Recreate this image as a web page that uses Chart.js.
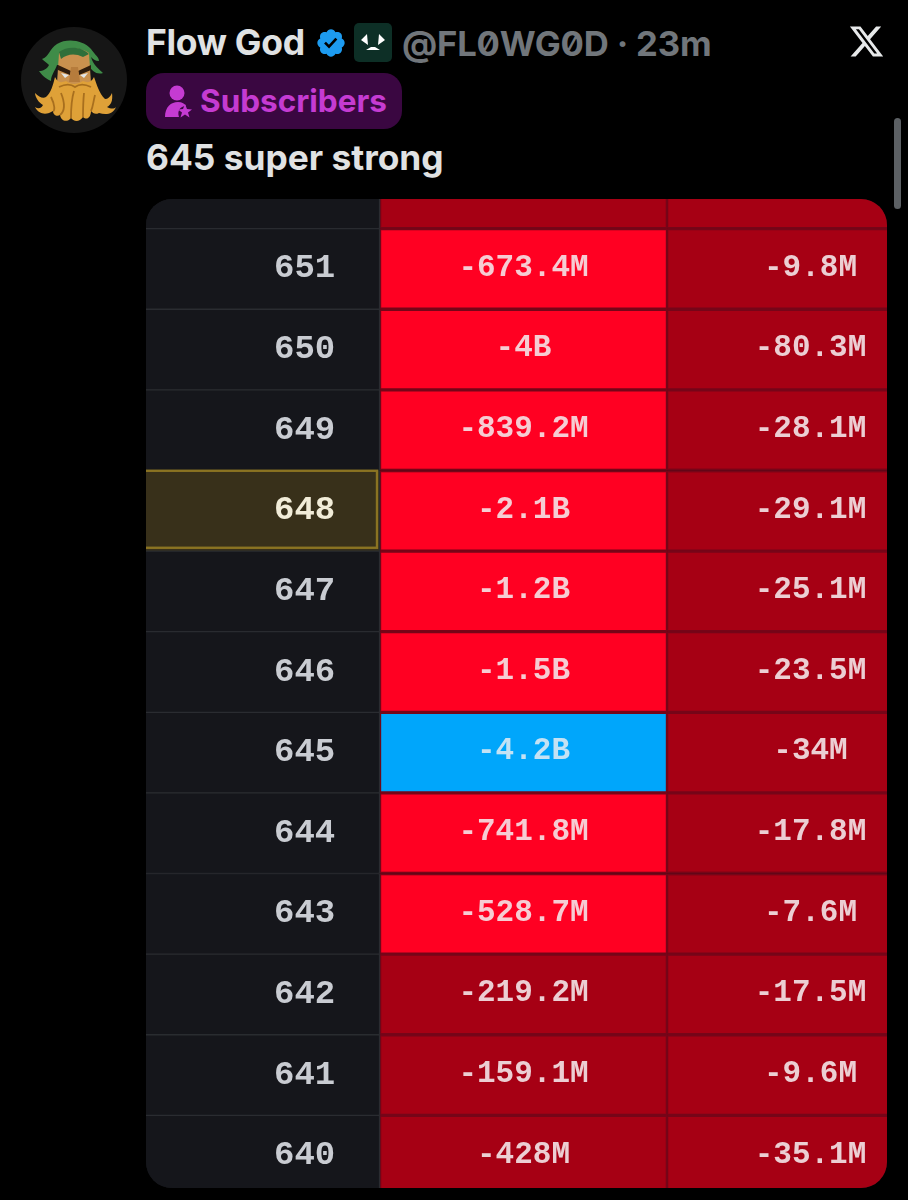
<!DOCTYPE html>
<html><head><meta charset="utf-8">
<style>
html,body{margin:0;padding:0;background:#000;width:908px;height:1200px;overflow:hidden}
body{position:relative;font-family:Inter,Roboto,sans-serif}
.t{position:absolute;white-space:nowrap;line-height:1;font-weight:700}
svg{position:absolute;overflow:visible}
#tbl{position:absolute;left:146px;top:199px;width:741px;height:989px;border-radius:26px;overflow:hidden;background:#15161b}
#c{position:absolute;left:0;top:-51.3px;filter:blur(.7px)}
#sb{position:absolute;left:894px;top:118px;width:7px;height:91px;border-radius:4px;background:#5c6064}
</style></head><body>
<svg style="left:21px;top:27px" width="106" height="106" viewBox="0 0 106 106">
<circle cx="53" cy="53" r="53" fill="#161616"/>
<path d="M21 32C28 30 28 22 36 17C46 11 62 13 70 22C74 28 78 30 78 34C74 34 72 32 70 30C72 38 78 42 82 46C76 48 70 44 68 38L36 38C34 44 30 48 30 54C26 52 22 50 18 44C22 44 26 42 28 38C26 36 23 34 21 32Z" fill="#3f8c48"/>
<path d="M38 26C46 20 60 20 68 26L70 56L62 66L44 66L36 56Z" fill="#c9914e"/>
<path d="M38 25C46 19 60 19 68 27L62 30C54 26 46 27 40 32Z" fill="#2f6f3a"/>
<path d="M37 38L50 44L49 48L37 43ZM70 38L57 44L58 48L70 43Z" fill="#2e1c0c"/>
<path d="M40 46L48 48L44 51ZM67 46L59 48L63 51Z" fill="#e3e6e6"/>
<path d="M50 40L57 40L59 55L48 55Z" fill="#b67c3c"/>
<path d="M34 50C37 56 40 56 45 54C50 58 56 58 62 54C66 56 70 56 73 50C76 58 78 66 84 72C87 72 89 70 91 66C92 74 90 78 86 80C90 82 93 82 95 80C92 88 84 88 78 86C74 88 72 86 70 84C70 90 66 94 62 90C58 96 52 94 50 91C46 96 40 94 39 88C36 90 32 88 32 84C26 88 18 88 14 80C17 82 20 82 22 78C18 76 14 70 14 66C18 70 22 72 25 70C30 66 32 58 34 50Z" fill="#dfa138"/>
<path d="M38 60C44 57 50 57 54 60C58 57 64 57 70 60M30 70C34 78 34 84 32 84M40 66C44 76 44 84 39 88M53 64C50 74 50 84 50 91M63 66C62 76 62 84 62 90M74 68C72 76 72 80 70 84" stroke="#a86f1e" stroke-width="1.8" fill="none"/>
</svg>
<div class="t" style="left:146px;top:25px;font-size:35.5px;color:#e0e2e3;letter-spacing:-.3px">Flow God</div>
<svg style="left:315px;top:27px" width="32" height="32" viewBox="0 0 24 24"><path fill="#1d9bf0" fill-rule="evenodd" d="M22.25 12c0-1.43-.88-2.67-2.19-3.34.46-1.39.2-2.9-.81-3.91s-2.52-1.27-3.91-.81c-.66-1.31-1.91-2.19-3.34-2.19s-2.67.88-3.33 2.19c-1.4-.46-2.91-.2-3.92.81s-1.26 2.52-.8 3.91c-1.31.67-2.2 1.91-2.2 3.34s.89 2.67 2.2 3.34c-.46 1.39-.21 2.9.8 3.91s2.52 1.26 3.91.81c.67 1.31 1.91 2.19 3.34 2.19s2.68-.88 3.34-2.19c1.39.45 2.9.2 3.91-.81s1.27-2.52.81-3.91c1.31-.67 2.19-1.91 2.19-3.34zm-11.71 4.2L6.8 12.46l1.41-1.42 2.26 2.26 4.8-5.23 1.47 1.36-6.2 6.77z"/></svg>
<svg style="left:354px;top:23px" width="38" height="39" viewBox="0 0 38 39"><rect width="38" height="39" rx="5" fill="#0d2f26"/><path d="M7 17L13 11L14 22ZM31 17L25 11L24 22ZM12 27L17 24L21 24L26 27Z" fill="#fff"/></svg>
<div class="t" style="left:402px;top:26px;font-size:34.7px;color:#71767b;font-weight:700;font-feature-settings:'zero' 1;letter-spacing:-.2px">@FL0WG0D · 23m</div>
<svg style="left:848px;top:23px" width="37" height="37" viewBox="0 0 24 24"><path fill="#e7e9ea" d="M18.244 2.25h3.308l-7.227 8.26 8.502 11.24H16.17l-5.214-6.817L4.99 21.75H1.68l7.73-8.835L1.254 2.25H8.08l4.713 6.231zm-1.161 17.52h1.833L7.084 4.126H5.117z"/></svg>
<div style="position:absolute;left:146px;top:73px;width:256px;height:56px;border-radius:18px;background:#3a0741"></div>
<svg style="left:164px;top:85px" width="28" height="33" viewBox="0 0 28 33"><circle cx="13" cy="8" r="7.5" fill="#c53bd2"/><path d="M1 32C1 22 7 17 14 17C18 17 21 19 22 21C16 21 13 26 15 32Z" fill="#c53bd2"/><path d="M21 19L23 24L28 24.500L24 27.500L25.500 32.500L21 29.500L16.500 32.500L18 27.500L14 24.500L19 24Z" fill="#c53bd2"/></svg>
<div class="t" style="left:200px;top:85px;font-size:31.5px;color:#c53bd2">Subscribers</div>
<div class="t" style="left:146px;top:140px;font-size:35.3px;color:#e0e2e3">645 super strong</div>
<div id="sb"></div>
<div id="tbl"><canvas id="c" width="808" height="1048"></canvas></div>
<script src="https://cdn.jsdelivr.net/npm/chart.js@4/dist/chart.umd.min.js"></script>
<script>
// A blank first row is the scrolled-off row showing at the top of the table.
const strikes = ["", "651", "650", "649", "648", "647", "646", "645", "644", "643", "642", "641", "640"];
const columnOne = [null, -673.4, -4000, -839.2, -2100, -1200, -1500, -4200, -741.8, -528.7, -219.2, -159.1, -428];
const columnTwo = [null, -9.8, -80.3, -28.1, -29.1, -25.1, -23.5, -34, -17.8, -7.6, -17.5, -9.6, -35.1];
const highlightedStrike = "648";
const columnEdges = [0, 234, 521, 808];

const BRIGHT = '#ff0022', DARK = '#a60014', BLUE = '#00a6fb', STRIKE_BG = '#15161b';
const fmt = v => v === null ? '' : (Math.abs(v) >= 1000 ? (v / 1000) + 'B' : v + 'M');
const maxAbs = Math.max(...columnOne.map(v => Math.abs(v || 0)));
const heat = v => v === null ? DARK : Math.abs(v) === maxAbs ? BLUE : Math.abs(v) >= 500 ? BRIGHT : DARK;

const cellLabels = {
  id: 'cellLabels',
  afterDatasetsDraw(chart) {
    const { ctx, scales: { x, y } } = chart;
    ctx.save();
    // gold cursor box around the current strike
    const yc = y.getPixelForValue(strikes.indexOf(highlightedStrike));
    ctx.strokeStyle = '#8a7322'; ctx.lineWidth = 2.4;
    ctx.strokeRect(x.getPixelForValue(columnEdges[0]) - 4, yc - 40, x.getPixelForValue(columnEdges[1]) + 1, 77);
    ctx.font = '700 31px "Liberation Mono"';
    ctx.textAlign = 'center'; ctx.textBaseline = 'middle';
    [columnOne, columnTwo].forEach((col, c) => {
      const cx = x.getPixelForValue((columnEdges[c + 1] + columnEdges[c + 2]) / 2);
      col.forEach((v, i) => {
        if (v === null) return;
        ctx.fillStyle = heat(v) === BLUE ? '#c4e2f4' : c === 0 && heat(v) === BRIGHT ? '#f6ccd3' : '#ecced3';
        ctx.fillText(fmt(v), cx, y.getPixelForValue(i) - 1);
      });
    });
    ctx.restore();
  }
};

new Chart(document.getElementById('c'), {
  type: 'bar',
  data: {
    labels: strikes,
    datasets: [
      { label: 'Strike', data: strikes.map(() => [columnEdges[0], columnEdges[1]]),
        backgroundColor: ctx => strikes[ctx.dataIndex] === highlightedStrike ? '#38301a' : STRIKE_BG,
        borderColor: '#2a2c31', borderWidth: { top: 1, bottom: 1, left: 0, right: 1.5 } },
      { label: 'Column 1', data: columnOne.map(() => [columnEdges[1], columnEdges[2]]),
        backgroundColor: ctx => heat(columnOne[ctx.dataIndex]),
        borderColor: '#760518', borderWidth: { top: 2, bottom: 2, left: 1.5, right: 1.5 } },
      { label: 'Column 2', data: columnTwo.map(() => [columnEdges[2], columnEdges[3]]),
        backgroundColor: ctx => heat(columnTwo[ctx.dataIndex]),
        borderColor: '#760518', borderWidth: { top: 2, bottom: 2, left: 1.5, right: 0 } }
    ]
  },
  options: {
    indexAxis: 'y', responsive: false, animation: false,
    layout: { padding: 0 },
    datasets: { bar: { barPercentage: 1, categoryPercentage: 1, grouped: false, borderSkipped: false } },
    plugins: { legend: { display: false }, tooltip: { enabled: false } },
    scales: {
      x: { type: 'linear', min: columnEdges[0], max: columnEdges[3], display: false },
      y: { type: 'category', position: 'left',
           afterFit(s) { s.width = 0; s.paddingTop = 0; s.paddingBottom = 0; s.paddingLeft = 0; s.paddingRight = 0; },
           grid: { display: false, drawTicks: false }, border: { display: false },
           ticks: { z: 5, mirror: true, padding: 128, autoSkip: false,
                    font: { family: '"Liberation Mono"', size: 34, weight: '700' },
                    color: c => c.tick && c.tick.label === highlightedStrike ? '#f1ecd8' : '#c9ccd2' } }
    }
  },
  plugins: [cellLabels]
});
</script>
</body></html>
